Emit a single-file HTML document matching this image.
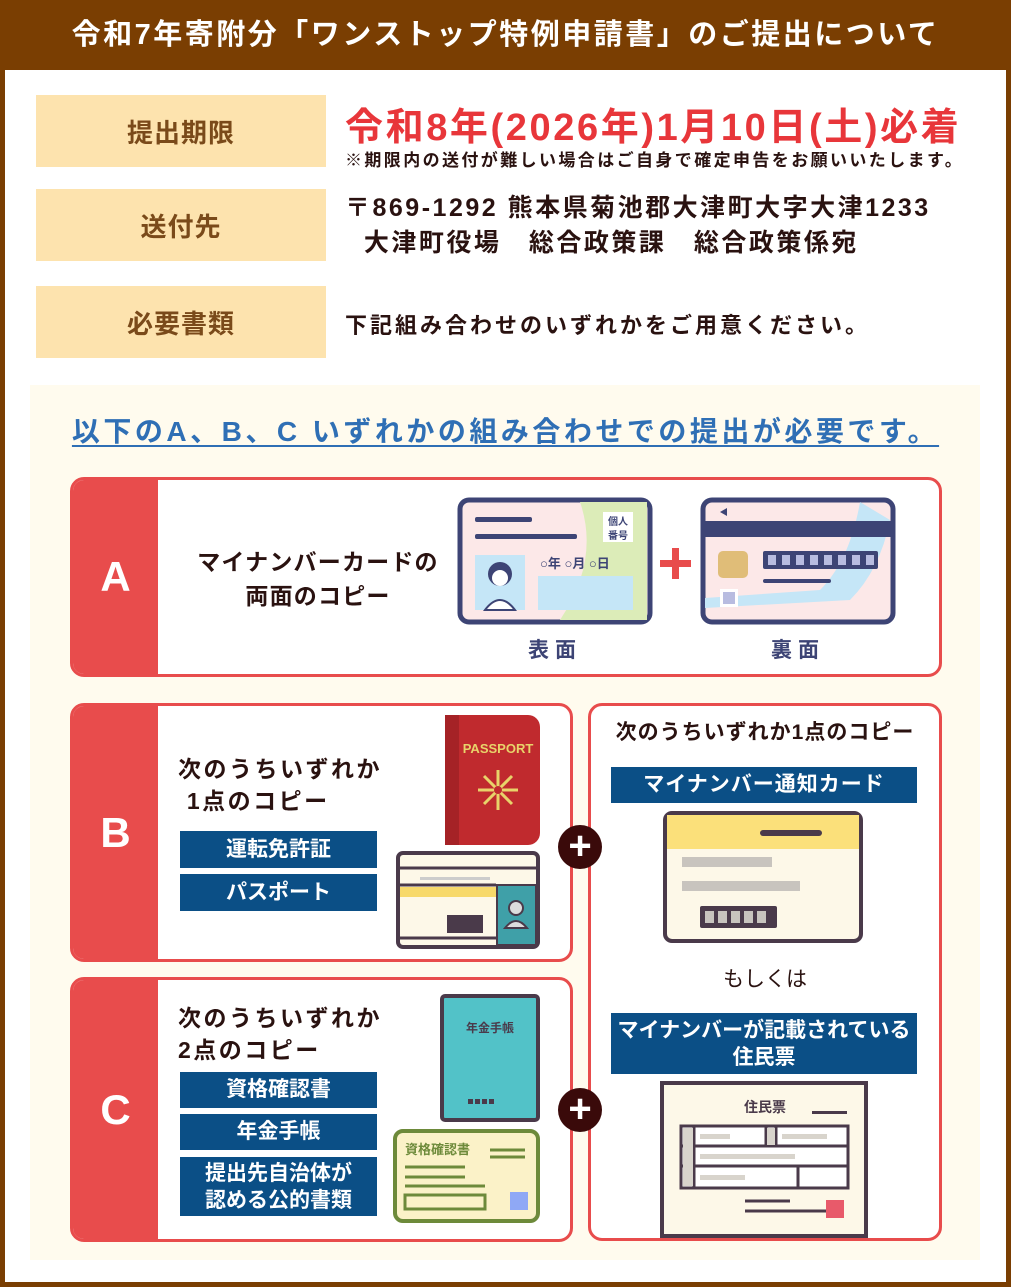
<!DOCTYPE html>
<html><head><meta charset="utf-8"><style>
*{margin:0;padding:0;box-sizing:border-box}
body{width:1011px;height:1287px;position:relative;background:#7a3e02;font-family:"Liberation Sans","Noto Sans CJK JP",sans-serif;overflow:hidden}
.a{position:absolute}
.lab{position:absolute;left:36px;width:290px;height:72px;background:#fde3ae;color:#7a4a1a;font-weight:bold;font-size:26px;display:flex;align-items:center;justify-content:center;letter-spacing:1px}
.box{position:absolute;border:3px solid #e84c4c;border-radius:14px;background:#fff;overflow:hidden}
.side{position:absolute;left:0;top:0;bottom:0;width:85px;background:#e84c4c;color:#fff;font-size:42px;font-weight:bold;display:flex;align-items:center;justify-content:center}
.tag{position:absolute;background:#0b4f86;color:#fff;font-weight:bold;font-size:21px;text-align:center}
.t{position:absolute;color:#2a1210;font-weight:bold}
.plus{position:absolute;width:44px;height:44px;border-radius:50%;background:#3a0a0a;color:#fff;font-size:40px;line-height:42px;text-align:center;font-weight:bold}
</style></head><body>
<div class="a" style="left:0;top:0;width:1011px;height:70px;color:#fff;font-weight:bold;font-size:29px;letter-spacing:2.5px;line-height:70px;text-align:center;white-space:nowrap">令和7年寄附分「ワンストップ特例申請書」のご提出について</div>
<div class="a" style="left:5px;top:70px;width:1001px;height:1212px;background:#fff"></div>
<div class="lab" style="top:95px">提出期限</div>
<div class="lab" style="top:189px">送付先</div>
<div class="lab" style="top:286px">必要書類</div>
<div class="a" style="left:345px;top:96px;color:#e8363a;font-weight:bold;font-size:38px;letter-spacing:2.6px;white-space:nowrap">令和8年(2026年)1月10日(土)必着</div>
<div class="a" style="left:345px;top:146px;color:#2a1210;font-weight:bold;font-size:17px;letter-spacing:2.4px;white-space:nowrap">※期限内の送付が難しい場合はご自身で確定申告をお願いいたします。</div>
<div class="a" style="left:345px;top:191px;color:#2a1210;font-weight:bold;font-size:25px;letter-spacing:2.5px;white-space:nowrap;line-height:35px">〒869-1292 熊本県菊池郡大津町大字大津1233<br>&nbsp;&nbsp;大津町役場　総合政策課　総合政策係宛</div>
<div class="a" style="left:345px;top:308px;color:#2a1210;font-weight:bold;font-size:22px;letter-spacing:3px;white-space:nowrap">下記組み合わせのいずれかをご用意ください。</div>
<div class="a" style="left:30px;top:385px;width:950px;height:875px;background:#fffbee"></div>
<div class="a" style="left:0;width:1011px;top:410px;text-align:center;color:#2f6fb5;font-weight:bold;font-size:28px;letter-spacing:3.5px;text-decoration:underline;text-underline-offset:4px;white-space:nowrap">以下のA、B、C いずれかの組み合わせでの提出が必要です。</div>

<div class="box" style="left:70px;top:477px;width:872px;height:200px"><div class="side">A</div></div>
<div class="t" style="left:158px;width:320px;top:545px;font-size:23px;letter-spacing:1.2px;text-align:center;line-height:34px">マイナンバーカードの<br>両面のコピー</div>
<div class="box" style="left:70px;top:703px;width:503px;height:259px"><div class="side">B</div></div>
<div class="box" style="left:70px;top:977px;width:503px;height:265px"><div class="side">C</div></div>
<div class="box" style="left:588px;top:703px;width:354px;height:538px"></div>

<div class="t" style="left:178px;top:753px;font-size:23px;letter-spacing:2.5px;line-height:32px;white-space:nowrap">次のうちいずれか<br>&nbsp;1点のコピー</div>
<div class="tag" style="left:180px;top:831px;width:197px;height:37px;line-height:37px">運転免許証</div>
<div class="tag" style="left:180px;top:874px;width:197px;height:37px;line-height:37px">パスポート</div>
<div class="t" style="left:178px;top:1002px;font-size:23px;letter-spacing:2.5px;line-height:32px;white-space:nowrap">次のうちいずれか<br>2点のコピー</div>
<div class="tag" style="left:180px;top:1072px;width:197px;height:36px;line-height:36px">資格確認書</div>
<div class="tag" style="left:180px;top:1114px;width:197px;height:36px;line-height:36px">年金手帳</div>
<div class="tag" style="left:180px;top:1157px;width:197px;height:59px;line-height:27px;padding-top:3px">提出先自治体が<br>認める公的書類</div>

<div class="t" style="left:588px;width:354px;top:716px;font-size:21px;letter-spacing:1px;text-align:center;white-space:nowrap">次のうちいずれか1点のコピー</div>
<div class="tag" style="left:611px;top:767px;width:306px;height:36px;line-height:36px;letter-spacing:1px">マイナンバー通知カード</div>
<div class="t" style="left:588px;width:354px;top:963px;font-size:21px;text-align:center;font-weight:normal">もしくは</div>
<div class="tag" style="left:611px;top:1013px;width:306px;height:61px;line-height:27px;padding-top:4px">マイナンバーが記載されている<br>住民票</div>

<div class="plus" style="left:558px;top:825px">+</div>
<div class="plus" style="left:558px;top:1088px">+</div>

<svg class="a" style="left:0;top:0" width="1011" height="1287">
<rect x="460" y="500" width="190" height="122" rx="9" fill="#fce8e8" stroke="#3d4475" stroke-width="5"/>
<path d="M580 502 Q600 560 560 620 L647 620 L647 502Z" fill="#dcecb8"/>
<rect x="475" y="517" width="57" height="5" rx="2" fill="#3d4475"/>
<rect x="475" y="534" width="102" height="5" rx="2" fill="#3d4475"/>
<rect x="603" y="512" width="30" height="30" fill="#fff"/>
<text x="618" y="525" font-size="10" font-weight="bold" fill="#3d4475" text-anchor="middle">個人</text>
<text x="618" y="539" font-size="10" font-weight="bold" fill="#3d4475" text-anchor="middle">番号</text>
<rect x="475" y="555" width="50" height="55" fill="#c5e6f7"/>
<circle cx="500" cy="574" r="12" fill="#3d4475"/><path d="M485 610 Q500 590 515 610Z" fill="#fff" stroke="#3d4475" stroke-width="2"/><circle cx="500" cy="578" r="8" fill="#fff"/>
<text x="540" y="568" font-size="13" font-weight="bold" fill="#3d4475">○年 ○月 ○日</text>
<rect x="538" y="576" width="95" height="34" fill="#c5e6f7"/>
<text x="555" y="657" font-size="21" font-weight="bold" fill="#3d4475" text-anchor="middle" letter-spacing="6">表面</text>
<rect x="660" y="560" width="31" height="7" fill="#e84c4c"/><rect x="672" y="548" width="7" height="31" fill="#e84c4c"/>
<rect x="703" y="500" width="190" height="122" rx="9" fill="#fce8e8" stroke="#3d4475" stroke-width="5"/>
<path d="M860 502 Q850 560 820 590 L705 598 L705 608 L850 600 Q880 570 890 520Z" fill="#c5e6f7"/>
<rect x="705" y="521" width="186" height="16" fill="#3d4475"/>
<path d="M720 512 L727 508 L727 516Z" fill="#3d4475"/>
<rect x="718" y="551" width="30" height="27" rx="5" fill="#e0bd78"/>
<rect x="763" y="551" width="115" height="18" rx="2" fill="#3d4475"/>
<g fill="#b8bce0"><rect x="768" y="555" width="8" height="10"/><rect x="782" y="555" width="8" height="10"/><rect x="796" y="555" width="8" height="10"/><rect x="810" y="555" width="8" height="10"/><rect x="824" y="555" width="8" height="10"/><rect x="838" y="555" width="8" height="10"/><rect x="852" y="555" width="8" height="10"/><rect x="866" y="555" width="8" height="10"/></g>
<rect x="763" y="579" width="68" height="4" rx="2" fill="#3d4475"/>
<rect x="720" y="589" width="18" height="18" fill="#fff"/><rect x="723" y="592" width="12" height="12" fill="#b8bce0"/>
<text x="798" y="657" font-size="21" font-weight="bold" fill="#3d4475" text-anchor="middle" letter-spacing="6">裏面</text>
<rect x="445" y="715" width="95" height="130" rx="12" fill="#c02a2e"/><rect x="445" y="715" width="14" height="130" fill="#a52226"/>
<text x="498" y="753" font-size="13" font-weight="bold" fill="#e8d36a" text-anchor="middle">PASSPORT</text>
<g stroke="#e8d36a" stroke-width="3"><line x1="478" y1="790" x2="518" y2="790"/><line x1="498" y1="770" x2="498" y2="810"/><line x1="484" y1="776" x2="512" y2="804"/><line x1="512" y1="776" x2="484" y2="804"/></g><circle cx="498" cy="790" r="4" fill="#c02a2e"/>
<rect x="398" y="853" width="140" height="94" rx="5" fill="#fdf8e8" stroke="#4a3a4a" stroke-width="4"/>
<path d="M400 868 H536 M400 885 H496 M400 938 H496" stroke="#4a3a4a" stroke-width="3"/>
<rect x="400" y="887" width="96" height="10" fill="#f7d96a"/>
<rect x="497" y="885" width="39" height="60" fill="#3fa0a8" stroke="#4a3a4a" stroke-width="2"/>
<circle cx="516" cy="908" r="7" fill="#ddd" stroke="#4a3a4a" stroke-width="2"/><path d="M505 928 Q516 914 527 928Z" fill="#ddd" stroke="#4a3a4a" stroke-width="2"/>
<rect x="447" y="915" width="36" height="18" fill="#4a3a4a"/>
<g fill="#ccc"><rect x="420" y="877" width="70" height="3"/></g>
<rect x="442" y="996" width="96" height="124" rx="3" fill="#52c2c8" stroke="#4a3a4a" stroke-width="4"/>
<text x="490" y="1032" font-size="12" font-weight="bold" fill="#4a3a4a" text-anchor="middle">年金手帳</text>
<g fill="#4a3a4a"><rect x="468" y="1099" width="5" height="5"/><rect x="475" y="1099" width="5" height="5"/><rect x="482" y="1099" width="5" height="5"/><rect x="489" y="1099" width="5" height="5"/></g>
<rect x="395" y="1131" width="143" height="90" rx="8" fill="#fbf2c8" stroke="#6d8a3a" stroke-width="4"/>
<text x="405" y="1154" font-size="13" font-weight="bold" fill="#6d8a3a">資格確認書</text>
<path d="M490 1150 H525 M490 1157 H525 M405 1167 H465 M405 1177 H465 M405 1186 H485" stroke="#6d8a3a" stroke-width="3"/>
<rect x="405" y="1195" width="80" height="14" fill="none" stroke="#6d8a3a" stroke-width="3"/>
<rect x="510" y="1192" width="18" height="18" fill="#8fa8f5"/>
<rect x="665" y="813" width="196" height="128" rx="7" fill="#fdf8e8" stroke="#4a3a4a" stroke-width="4"/>
<rect x="667" y="815" width="192" height="34" fill="#fbe07a"/>
<rect x="760" y="830" width="62" height="6" rx="3" fill="#4a3a4a"/>
<rect x="682" y="857" width="90" height="10" fill="#c8c4be"/><rect x="682" y="881" width="118" height="10" fill="#c8c4be"/>
<rect x="700" y="906" width="77" height="22" rx="2" fill="#4a3a4a"/>
<g fill="#c8c4be"><rect x="705" y="911" width="9" height="12"/><rect x="718" y="911" width="9" height="12"/><rect x="731" y="911" width="9" height="12"/><rect x="744" y="911" width="9" height="12"/><rect x="757" y="911" width="9" height="12"/></g>
<rect x="662" y="1083" width="204" height="153" fill="#fdf8e8" stroke="#4a3a4a" stroke-width="4"/>
<text x="765" y="1112" font-size="14" font-weight="bold" fill="#4a3a4a" text-anchor="middle">住民票</text>
<rect x="812" y="1111" width="35" height="3" fill="#4a3a4a"/>
<rect x="681" y="1126" width="167" height="62" fill="#fff" stroke="#4a3a4a" stroke-width="3"/>
<path d="M681 1146 H848 M681 1166 H848 M694 1126 V1188 M766 1126 V1146 M776 1126 V1146 M798 1166 V1188" stroke="#4a3a4a" stroke-width="3"/>
<g fill="#d8d4cc"><rect x="683" y="1128" width="10" height="58"/><rect x="767" y="1128" width="8" height="17"/><rect x="700" y="1134" width="30" height="5"/><rect x="782" y="1134" width="45" height="5"/><rect x="700" y="1154" width="95" height="5"/><rect x="700" y="1175" width="45" height="5"/></g>
<path d="M745 1201 H790 M745 1211 H826" stroke="#4a3a4a" stroke-width="3"/>
<rect x="826" y="1200" width="18" height="18" fill="#e85a6a"/>
</svg>
</body></html>
